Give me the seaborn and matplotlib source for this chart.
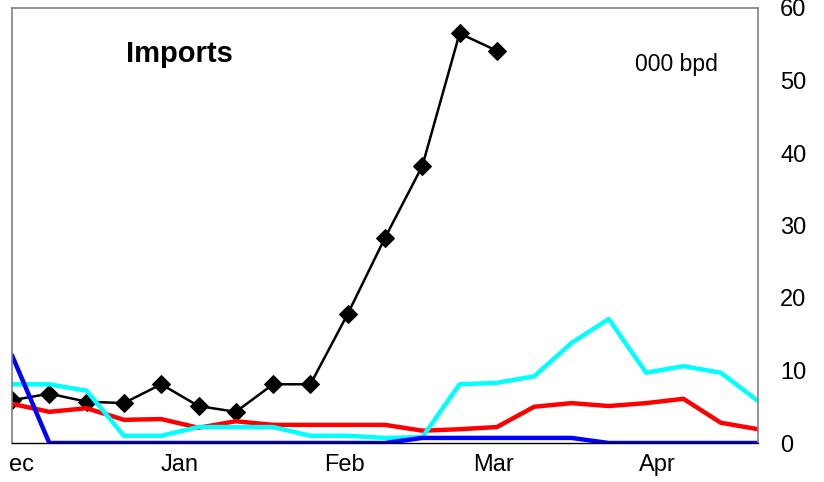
import numpy as np
import pandas as pd
import seaborn as sns
import matplotlib.pyplot as plt

# weekly observations, Dec -> Apr
weeks = list(range(21))
black = [5.9, 6.8, 5.7, 5.5, 8.1, 5.1, 4.3, 8.1, 8.1, 17.8, 28.3, 38.2, 56.5, 54.1]
red = [5.4, 4.3, 4.8, 3.2, 3.3, 2.1, 3.0, 2.5, 2.5, 2.5, 2.5, 1.7, 1.9, 2.2, 5.0, 5.5, 5.1, 5.5, 6.1, 2.8, 1.9]
cyan = [8.1, 8.1, 7.2, 1.0, 1.0, 2.2, 2.2, 2.2, 1.0, 1.0, 0.7, 0.8, 8.1, 8.3, 9.2, 13.8, 17.1, 9.7, 10.6, 9.7, 5.8]
blue = [12.1, 0, 0, 0, 0, 0, 0, 0, 0, 0, 0, 0.7, 0.7, 0.7, 0.7, 0.7, 0, 0, 0, 0, 0]

month_labels = ["ec", "Jan", "Feb", "Mar", "Apr"]
month_pos = [0.25, 4.5, 8.9, 12.9, 17.3]

sns.set_style("white")
plt.rcParams['font.family'] = ['Liberation Sans', 'DejaVu Sans']
plt.rcParams['text.color'] = 'black'
plt.rcParams['xtick.color'] = 'black'
plt.rcParams['ytick.color'] = 'black'

df = pd.DataFrame({"week": weeks, "red": red, "cyan": cyan, "blue": blue})
df_black = pd.DataFrame({"week": weeks[:len(black)], "val": black})

fig = plt.figure(figsize=(8.24, 4.82), dpi=100)
ax = fig.add_axes([12 / 824, 1 - 443 / 482, 746 / 824, 435 / 482])

sns.lineplot(data=df_black, x="week", y="val", ax=ax, color="black", lw=1.8,
             marker="D", markersize=9, markeredgecolor="black")
sns.lineplot(data=df, x="week", y="red", ax=ax, color="#ff0000", lw=3.2)
sns.lineplot(data=df, x="week", y="cyan", ax=ax, color="#00ffff", lw=3.2)
sns.lineplot(data=df, x="week", y="blue", ax=ax, color="#0000ff", lw=3.2)

ax.set_xlim(0, 20)
ax.set_ylim(0, 60)
ax.set_xlabel("")
ax.set_ylabel("")
ax.set_xticks(month_pos)
ax.set_xticklabels(month_labels, fontsize=17)
ax.yaxis.tick_right()
ax.set_yticks(range(0, 61, 10))
ax.tick_params(axis="y", length=0, pad=16, labelsize=17)
ax.tick_params(axis="x", length=0, pad=8)
ax.set_yticklabels([str(v) for v in range(0, 61, 10)])

for side in ["left", "right", "top"]:
    ax.spines[side].set_color("#808080")
    ax.spines[side].set_linewidth(1.2)
ax.spines["bottom"].set_color("black")
ax.spines["bottom"].set_linewidth(1.0)

ax.text(0.224, 0.894, "Imports", transform=ax.transAxes, ha="center", va="center",
        fontsize=21, fontweight="bold")
ax.text(0.891, 0.869, "000 bpd", transform=ax.transAxes, ha="center", va="center",
        fontsize=16.5)

fig.savefig("out.png", dpi=100)
